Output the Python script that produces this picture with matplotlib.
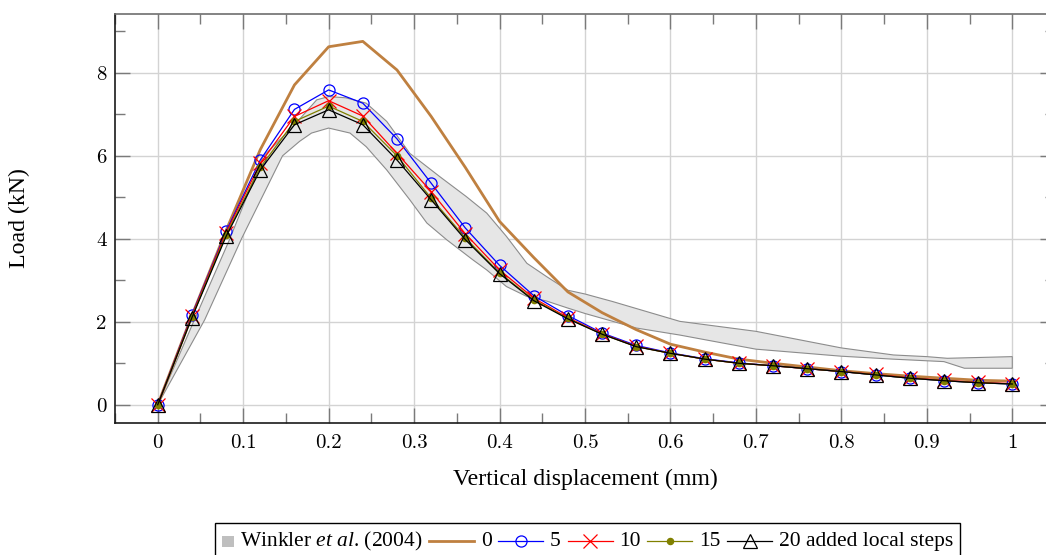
import matplotlib
matplotlib.use("Agg")
import matplotlib.pyplot as plt
import numpy as np
from matplotlib.lines import Line2D
from matplotlib.patches import Rectangle
from matplotlib.offsetbox import DrawingArea, TextArea, HPacker, AnchoredOffsetbox

# ---------------- data ----------------
displacement = [0.00, 0.04, 0.08, 0.12, 0.16, 0.20, 0.24, 0.28, 0.32, 0.36,
                0.40, 0.44, 0.48, 0.52, 0.56, 0.60, 0.64, 0.68, 0.72, 0.76,
                0.80, 0.84, 0.88, 0.92, 0.96, 1.00]

load_0 = [0.00, 2.15, 4.20, 6.15, 7.71, 8.63, 8.76, 8.07, 6.95, 5.72,
          4.42, 3.55, 2.72, 2.22, 1.81, 1.46, 1.27, 1.10, 1.00, 0.91,
          0.82, 0.75, 0.69, 0.64, 0.59, 0.57]
load_5 = [0.00, 2.17, 4.18, 5.90, 7.12, 7.59, 7.27, 6.41, 5.34, 4.26,
          3.36, 2.63, 2.15, 1.73, 1.43, 1.25, 1.11, 1.01, 0.94, 0.87,
          0.80, 0.72, 0.64, 0.58, 0.53, 0.50]
load_10 = [0.00, 2.15, 4.15, 5.82, 6.95, 7.33, 6.96, 6.06, 5.14, 4.12,
           3.25, 2.57, 2.10, 1.71, 1.41, 1.24, 1.10, 1.00, 0.94, 0.87,
           0.80, 0.73, 0.65, 0.59, 0.54, 0.51]
load_15 = [0.00, 2.12, 4.10, 5.72, 6.83, 7.20, 6.83, 6.00, 4.98, 4.02,
           3.18, 2.53, 2.08, 1.70, 1.40, 1.24, 1.10, 1.00, 0.94, 0.87,
           0.80, 0.72, 0.64, 0.58, 0.53, 0.50]
load_20 = [0.00, 2.10, 4.06, 5.66, 6.75, 7.11, 6.75, 5.90, 4.94, 3.98,
           3.16, 2.51, 2.07, 1.70, 1.40, 1.24, 1.10, 1.00, 0.94, 0.87,
           0.80, 0.72, 0.64, 0.58, 0.53, 0.50]

winkler_upper_x = [0.0, 0.043, 0.084, 0.123, 0.158, 0.186, 0.20, 0.22, 0.244,
                   0.268, 0.295, 0.33, 0.361, 0.385, 0.408, 0.432, 0.455, 0.48,
                   0.50, 0.532, 0.611, 0.70, 0.80, 0.861, 0.90, 0.924, 1.0]
winkler_upper_y = [0.0, 2.05, 3.98, 5.98, 6.70, 7.35, 7.43, 7.40, 7.27,
                   6.83, 6.06, 5.50, 5.02, 4.62, 4.06, 3.41, 3.09, 2.76,
                   2.67, 2.49, 2.01, 1.77, 1.37, 1.20, 1.16, 1.12, 1.16]
winkler_lower_x = [0.0, 0.055, 0.098, 0.146, 0.166, 0.18, 0.20, 0.225, 0.244,
                   0.268, 0.295, 0.315, 0.338, 0.369, 0.385, 0.408, 0.432,
                   0.455, 0.48, 0.50, 0.56, 0.611, 0.70, 0.80, 0.86, 0.92,
                   0.944, 1.0]
winkler_lower_y = [0.0, 2.05, 4.00, 6.00, 6.35, 6.55, 6.67, 6.55, 6.22,
                   5.66, 4.94, 4.38, 3.98, 3.49, 3.25, 2.85, 2.61,
                   2.50, 2.33, 2.20, 1.85, 1.68, 1.34, 1.17, 1.10, 1.04,
                   0.88, 0.88]

x_ticks = [0, 0.1, 0.2, 0.3, 0.4, 0.5, 0.6, 0.7, 0.8, 0.9, 1.0]
x_tick_labels = ["0", "0.1", "0.2", "0.3", "0.4", "0.5", "0.6", "0.7", "0.8", "0.9", "1"]
y_ticks = [0, 2, 4, 6, 8]
y_tick_labels = ["0", "2", "4", "6", "8"]

series_labels = ["0", "5", "10", "15", "20 added local steps"]
band_label = r"Winkler $\mathit{et\ al}$. (2004)"

# ---------------- style ----------------
plt.rcParams["font.family"] = ["Liberation Serif", "DejaVu Serif"]
plt.rcParams["mathtext.fontset"] = "custom"
plt.rcParams["mathtext.rm"] = "Liberation Serif"
plt.rcParams["mathtext.it"] = "Liberation Serif:italic"

W, H = 1046, 555
fig = plt.figure(figsize=(W / 100, H / 100), dpi=100)
ax_l, ax_r, ax_t, ax_b = 115, 1055, 14, 423
ax = fig.add_axes([ax_l / W, 1 - ax_b / H, (ax_r - ax_l) / W, (ax_b - ax_t) / H])

ax.set_xlim(-0.05, 1.05)
ax.set_ylim(-0.44, 9.42)

brown = "#bf8040"
olive = "#808000"
series_styles = [
    dict(color=brown, lw=2.0),
    dict(color="blue", lw=0.9, marker="o", ms=8, mfc="none", mec="blue", mew=0.9),
    dict(color="red", lw=0.9, marker="x", ms=10, mec="red", mew=0.9),
    dict(color=olive, lw=0.9, marker="o", ms=4.5, mfc=olive, mec=olive),
    dict(color="black", lw=0.9, marker="^", ms=10, mfc="none", mec="black", mew=0.9),
]

# band
band_x = list(winkler_upper_x) + list(winkler_lower_x[::-1])
band_y = list(winkler_upper_y) + list(winkler_lower_y[::-1])
ax.fill(band_x, band_y, facecolor="#e6e6e6", edgecolor="#8c8c8c", linewidth=0.8, zorder=2)

for i, ys in enumerate([load_0, load_5, load_10, load_15, load_20]):
    ax.plot(displacement, ys, zorder=3 + i, **series_styles[i])

# ticks / grid
ax.set_xticks(x_ticks)
ax.set_xticklabels(x_tick_labels, fontfamily="cmr10", fontsize=15)
ax.set_xticks(np.arange(-0.05, 1.06, 0.1), minor=True)
ax.set_yticks(y_ticks)
ax.set_yticklabels(y_tick_labels, fontfamily="cmr10", fontsize=15)
ax.set_yticks([1, 3, 5, 7, 9], minor=True)
ax.tick_params(which="both", direction="in", top=True, right=True, color="#7a7a7a", width=1.0)
ax.tick_params(which="major", length=11)
ax.tick_params(which="minor", length=7)
ax.tick_params(axis="x", which="major", pad=8)
ax.tick_params(axis="y", which="major", pad=6)
ax.grid(True, which="major", color="#d3d3d3", lw=1.0, zorder=0)
ax.set_axisbelow(True)

for s in ["left", "bottom"]:
    ax.spines[s].set_color("#1a1a1a")
for s in ["top", "right"]:
    ax.spines[s].set_color("#6e6e6e")
for s in ax.spines.values():
    s.set_linewidth(1.2)

ax.set_xlabel("Vertical displacement (mm)", fontsize=17.2)
ax.xaxis.set_label_coords(0.5, (ax_b - 469) / (ax_b - ax_t), transform=ax.transAxes)
ax.set_ylabel("Load (kN)", fontsize=17.2)
ax.yaxis.set_label_coords((30 - ax_l) / (ax_r - ax_l), 0.5, transform=ax.transAxes)

# legend built from offset boxes (small square for the band entry)
pt = 72 / 100.0
hw, hh = 45 * pt, 14 * pt
legend_fs = 15.5


def line_handle(style):
    da = DrawingArea(hw, hh, 0, 0)
    st = dict(style)
    marker = st.pop("marker", None)
    ms = st.pop("ms", None)
    mfc = st.pop("mfc", None)
    mec = st.pop("mec", None)
    mew = st.pop("mew", 0.9)
    da.add_artist(Line2D([0, hw], [hh / 2, hh / 2], color=st["color"], lw=st["lw"]))
    if marker is not None:
        da.add_artist(Line2D([hw / 2], [hh / 2], ls="none", marker=marker, ms=ms,
                             mfc=mfc if mfc is not None else st["color"],
                             mec=mec if mec is not None else st["color"], mew=mew))
    return da


sq = 11.6 * pt
sq_box = DrawingArea(sq, hh, 0, 0)
sq_box.add_artist(Rectangle((0, (hh - sq) / 2), sq, sq, facecolor="#bfbfbf", edgecolor="none"))

children = [sq_box, TextArea(band_label, textprops=dict(fontsize=legend_fs))]
for style, lab in zip(series_styles, series_labels):
    children.append(line_handle(style))
    children.append(TextArea(lab, textprops=dict(fontsize=legend_fs)))

packer = HPacker(children=children, align="center", pad=0, sep=4.8)
anch = AnchoredOffsetbox(loc="upper left", child=packer, pad=0.5, borderpad=0,
                         frameon=True, bbox_to_anchor=(215 / W, 1 - 523 / H),
                         bbox_transform=fig.transFigure)
anch.patch.set_boxstyle("square", pad=0)
anch.patch.set_edgecolor("black")
anch.patch.set_linewidth(1.0)
fig.add_artist(anch)

fig.savefig("out.png", dpi=100)
